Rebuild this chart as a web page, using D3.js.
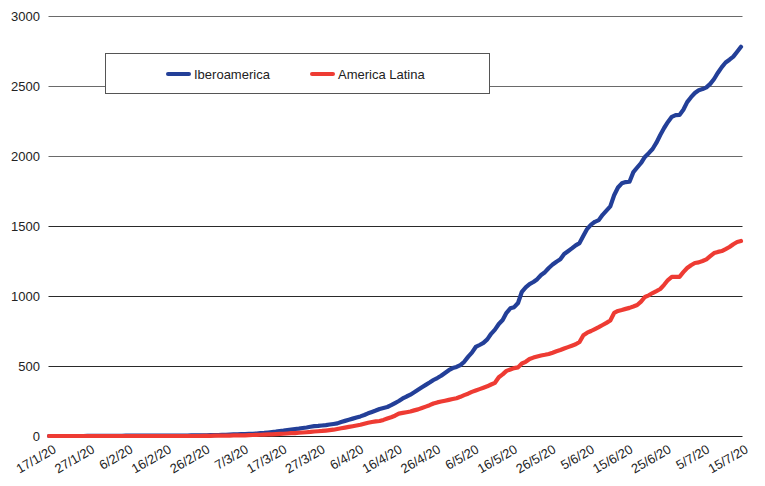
<!DOCTYPE html>
<html>
<head>
<meta charset="utf-8">
<script src="https://cdn.jsdelivr.net/npm/d3@7"></script>
<style>
  html, body { margin: 0; padding: 0; background: #fff; }
  svg { display: block; font-family: "Liberation Sans", Arial, sans-serif; }
</style>
</head>
<body>
<svg id="chart" width="765" height="486"></svg>
<script>
// ---- data ----
const startDate = "2020-01-17";
const seriesNames = ["Iberoamerica", "America Latina"];
const seriesColors = ["#233f98", "#ee3b33"];
const iberoamerica = [
  0,0,0,0,0,0,0,0,0,0,
  1,1,1,1,1,1,1,1,1,1,
  2,2,2,2,2,2,2,2,2,2,
  3,3,3,3,3,3,3,4,4,4,
  5,5,6,6,7,8,9,10,11,12,
  13,14,15,16,18,20,22,25,28,31,
  35,38,42,46,50,53,57,61,66,70,
  72,75,78,82,86,90,100,108,116,124,
  132,140,150,162,172,182,193,200,207,220,
  235,250,268,282,295,312,330,348,365,382,
  400,414,430,450,470,485,493,507,530,565,
  595,636,650,665,690,730,760,800,829,880,
  912,920,950,1030,1062,1085,1100,1120,1150,1170,
  1200,1225,1245,1262,1300,1320,1340,1362,1378,1430,
  1480,1510,1530,1542,1580,1610,1640,1720,1775,1805,
  1814,1816,1885,1918,1950,1993,2020,2050,2095,2150,
  2200,2243,2280,2292,2293,2330,2385,2420,2450,2470,
  2478,2490,2515,2550,2595,2635,2668,2688,2710,2745,
  2780
];
const americaLatina = [
  0,0,0,0,0,0,0,0,0,0,
  0,0,0,0,0,0,0,0,0,0,
  0,0,0,0,0,0,0,0,0,0,
  0,0,0,0,0,0,0,0,0,0,
  1,1,1,2,2,2,3,3,4,4,
  5,5,6,7,8,9,10,11,12,14,
  15,16,18,20,21,23,25,27,29,32,
  34,36,39,42,45,50,55,60,65,70,
  75,80,88,95,100,104,107,115,125,134,
  145,160,165,170,175,183,190,200,210,220,
  232,240,246,252,258,264,270,280,292,302,
  315,325,335,345,355,368,380,420,440,465,
  475,485,490,518,530,550,560,568,575,580,
  586,595,605,614,625,635,645,655,672,720,
  738,750,764,778,793,808,825,879,893,900,
  908,915,925,936,960,993,1005,1021,1035,1050,
  1080,1114,1136,1136,1137,1170,1200,1220,1236,1240,
  1250,1262,1285,1307,1315,1321,1335,1350,1370,1386,
  1393
];
const yTicks = [0, 500, 1000, 1500, 2000, 2500, 3000];
const xTickLabels = ["17/1/20","27/1/20","6/2/20","16/2/20","26/2/20","7/3/20","17/3/20","27/3/20","6/4/20","16/4/20","26/4/20","6/5/20","16/5/20","26/5/20","5/6/20","15/6/20","25/6/20","5/7/20","15/7/20"];

// ---- chart ----
const svg = d3.select("#chart");
const t0 = new Date(startDate + "T00:00:00Z");
const dates = iberoamerica.map((_, i) => d3.utcDay.offset(t0, i));
const xTickDates = xTickLabels.map((_, i) => d3.utcDay.offset(t0, i * 10));

const x = d3.scaleUtc().domain([dates[0], dates[dates.length - 1]]).range([49, 741]);
const y = d3.scaleLinear().domain([0, 3000]).range([436, 16]);

// gridlines
svg.append("g").selectAll("line").data(yTicks.filter(d => d > 0)).join("line")
  .attr("x1", 48.5).attr("x2", 742.5)
  .attr("y1", d => Math.round(y(d)) + 0.5).attr("y2", d => Math.round(y(d)) + 0.5)
  .attr("stroke", d => d >= 2000 ? "#6a6a6a" : "#2a2a2a").attr("stroke-width", 1);

// baseline axis
svg.append("line").attr("x1", 48.5).attr("x2", 742.5)
  .attr("y1", y(0) + 0.5).attr("y2", y(0) + 0.5)
  .attr("stroke", "#222").attr("stroke-width", 1);

// y labels
svg.append("g").selectAll("text").data(yTicks).join("text")
  .attr("x", 40).attr("y", d => y(d) + 4.5)
  .attr("text-anchor", "end").attr("font-size", 13).attr("fill", "#222")
  .text(d => d);

// x labels
svg.append("g").selectAll("text").data(xTickDates).join("text")
  .attr("transform", d => `translate(${x(d) + 8},452) rotate(-30)`)
  .attr("text-anchor", "end").attr("font-size", 13).attr("fill", "#222")
  .text((d, i) => xTickLabels[i]);

// legend
svg.append("rect").attr("x", 105.5).attr("y", 53.5).attr("width", 384).attr("height", 40)
  .attr("fill", "#fff").attr("stroke", "#555").attr("stroke-width", 1);
const legendX = [168, 312];
seriesNames.forEach((name, i) => {
  svg.append("line").attr("x1", legendX[i]).attr("x2", legendX[i] + 21)
    .attr("y1", 74).attr("y2", 74)
    .attr("stroke", seriesColors[i]).attr("stroke-width", 4).attr("stroke-linecap", "round");
  svg.append("text").attr("x", legendX[i] + 26).attr("y", 78.5)
    .attr("font-size", 13).attr("fill", "#222").text(name);
});

// lines (blue first, red drawn on top)
const line = d3.line().x((d, i) => x(dates[i])).y(d => y(d));
[iberoamerica, americaLatina].forEach((s, k) => {
  svg.append("path").datum(s)
    .attr("d", line)
    .attr("fill", "none")
    .attr("stroke", seriesColors[k])
    .attr("stroke-width", 4.2)
    .attr("stroke-linejoin", "round")
    .attr("stroke-linecap", "round");
});
</script>
</body>
</html>
